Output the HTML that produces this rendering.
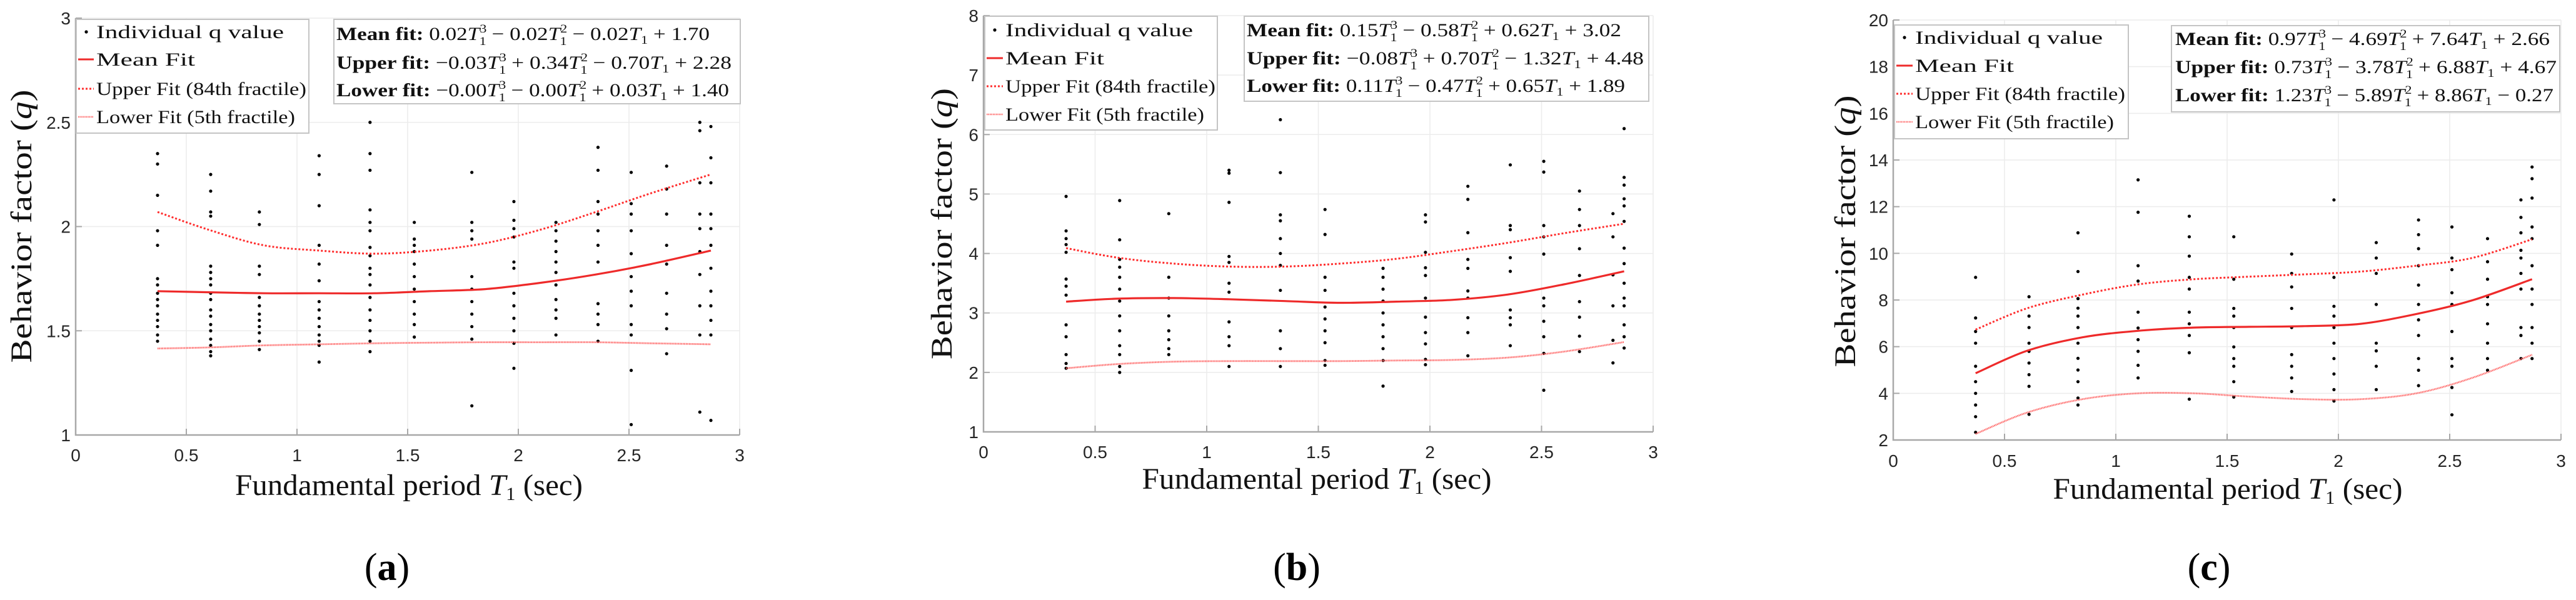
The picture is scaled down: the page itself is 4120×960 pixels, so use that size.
<!DOCTYPE html>
<html><head><meta charset="utf-8"><title>Behavior factor vs fundamental period</title>
<style>
html,body{margin:0;padding:0;background:#fff;}
svg{display:block;}
.tk{font-family:"Liberation Sans",sans-serif;font-size:28px;fill:#262626;}
.lg{font-family:"Liberation Serif",serif;font-size:30px;fill:#111;}
.ft{font-family:"Liberation Serif",serif;font-size:30px;fill:#111;}
.ti{font-family:"Liberation Serif",serif;font-size:48px;fill:#111;}
.pl{font-family:"Liberation Serif",serif;font-size:62px;fill:#000;}
</style></head>
<body>
<svg id="fig" width="4120" height="960" viewBox="0 0 4120 960" xmlns="http://www.w3.org/2000/svg">
<rect width="4120" height="960" fill="#fff"/>
<g id="layer-a"></g>
<g id="layer-b"></g>
<g id="layer-c"></g>

<!-- Panel a static text -->
<g>
<rect x="122" y="31" width="372" height="182" fill="#fff" stroke="#c4c4c4" stroke-width="2"/>
<circle cx="138" cy="51" r="2.6" fill="#000"/>
<text class="lg" x="154" y="61" textLength="300" lengthAdjust="spacingAndGlyphs">Individual q value</text>
<line x1="125" y1="95" x2="150" y2="95" stroke="#ee2a2a" stroke-width="3"/>
<text class="lg" x="154" y="105" textLength="158" lengthAdjust="spacingAndGlyphs">Mean Fit</text>
<line x1="125" y1="142" x2="150" y2="142" stroke="#ff2e2e" stroke-width="3" stroke-dasharray="3 3"/>
<text class="lg" x="154" y="152" textLength="336" lengthAdjust="spacingAndGlyphs">Upper Fit (84th fractile)</text>
<line x1="125" y1="187" x2="150" y2="187" stroke="#ff6f6f" stroke-width="2.6" stroke-dasharray="1.5 1"/>
<text class="lg" x="154" y="197" textLength="318" lengthAdjust="spacingAndGlyphs">Lower Fit (5th fractile)</text>
</g>
<g>
<rect x="534" y="31" width="650" height="135" fill="#fff" stroke="#c4c4c4" stroke-width="2"/>
<text class="ft" x="538" y="64" textLength="597" lengthAdjust="spacingAndGlyphs"><tspan font-weight="bold">Mean fit:</tspan> 0.02<tspan font-style="italic">T</tspan><tspan font-size="19" dy="-12">3</tspan><tspan font-size="19" dx="-10" dy="20">1</tspan><tspan dy="-8"> − 0.02</tspan><tspan font-style="italic">T</tspan><tspan font-size="19" dy="-12">2</tspan><tspan font-size="19" dx="-10" dy="20">1</tspan><tspan dy="-8"> − 0.02</tspan><tspan font-style="italic">T</tspan><tspan font-size="19" dy="6">1</tspan><tspan dy="-6"> + 1.70</tspan></text>
<text class="ft" x="538" y="110" textLength="632" lengthAdjust="spacingAndGlyphs"><tspan font-weight="bold">Upper fit:</tspan> −0.03<tspan font-style="italic">T</tspan><tspan font-size="19" dy="-12">3</tspan><tspan font-size="19" dx="-10" dy="20">1</tspan><tspan dy="-8"> + 0.34</tspan><tspan font-style="italic">T</tspan><tspan font-size="19" dy="-12">2</tspan><tspan font-size="19" dx="-10" dy="20">1</tspan><tspan dy="-8"> − 0.70</tspan><tspan font-style="italic">T</tspan><tspan font-size="19" dy="6">1</tspan><tspan dy="-6"> + 2.28</tspan></text>
<text class="ft" x="538" y="154" textLength="628" lengthAdjust="spacingAndGlyphs"><tspan font-weight="bold">Lower fit:</tspan> −0.00<tspan font-style="italic">T</tspan><tspan font-size="19" dy="-12">3</tspan><tspan font-size="19" dx="-10" dy="20">1</tspan><tspan dy="-8"> − 0.00</tspan><tspan font-style="italic">T</tspan><tspan font-size="19" dy="-12">2</tspan><tspan font-size="19" dx="-10" dy="20">1</tspan><tspan dy="-8"> + 0.03</tspan><tspan font-style="italic">T</tspan><tspan font-size="19" dy="6">1</tspan><tspan dy="-6"> + 1.40</tspan></text>
</g>
<text class="ti" x="50" y="362" text-anchor="middle" transform="rotate(-90 50 362)" textLength="437" lengthAdjust="spacingAndGlyphs">Behavior factor (<tspan font-style="italic">q</tspan>)</text>
<text class="ti" x="654" y="792" text-anchor="middle" textLength="556" lengthAdjust="spacingAndGlyphs">Fundamental period <tspan font-style="italic">T</tspan><tspan font-size="30" dy="8">1</tspan><tspan dy="-8"> (sec)</tspan></text>
<text class="pl" x="619" y="928" text-anchor="middle">(<tspan font-weight="bold">a</tspan>)</text>

<!-- Panel b static text -->
<g>
<rect x="1575" y="26" width="372" height="182" fill="#fff" stroke="#c4c4c4" stroke-width="2"/>
<circle cx="1591" cy="48" r="2.6" fill="#000"/>
<text class="lg" x="1608" y="58" textLength="300" lengthAdjust="spacingAndGlyphs">Individual q value</text>
<line x1="1578" y1="93" x2="1604" y2="93" stroke="#ee2a2a" stroke-width="3"/>
<text class="lg" x="1608" y="103" textLength="158" lengthAdjust="spacingAndGlyphs">Mean Fit</text>
<line x1="1578" y1="138" x2="1604" y2="138" stroke="#ff2e2e" stroke-width="3" stroke-dasharray="3 3"/>
<text class="lg" x="1608" y="148" textLength="336" lengthAdjust="spacingAndGlyphs">Upper Fit (84th fractile)</text>
<line x1="1578" y1="183" x2="1604" y2="183" stroke="#ff6f6f" stroke-width="2.6" stroke-dasharray="1.5 1"/>
<text class="lg" x="1608" y="193" textLength="318" lengthAdjust="spacingAndGlyphs">Lower Fit (5th fractile)</text>
</g>
<g>
<rect x="1990" y="26" width="647" height="136" fill="#fff" stroke="#c4c4c4" stroke-width="2"/>
<text class="ft" x="1994" y="58" textLength="599" lengthAdjust="spacingAndGlyphs"><tspan font-weight="bold">Mean fit:</tspan> 0.15<tspan font-style="italic">T</tspan><tspan font-size="19" dy="-12">3</tspan><tspan font-size="19" dx="-10" dy="20">1</tspan><tspan dy="-8"> − 0.58</tspan><tspan font-style="italic">T</tspan><tspan font-size="19" dy="-12">2</tspan><tspan font-size="19" dx="-10" dy="20">1</tspan><tspan dy="-8"> + 0.62</tspan><tspan font-style="italic">T</tspan><tspan font-size="19" dy="6">1</tspan><tspan dy="-6"> + 3.02</tspan></text>
<text class="ft" x="1994" y="103" textLength="635" lengthAdjust="spacingAndGlyphs"><tspan font-weight="bold">Upper fit:</tspan> −0.08<tspan font-style="italic">T</tspan><tspan font-size="19" dy="-12">3</tspan><tspan font-size="19" dx="-10" dy="20">1</tspan><tspan dy="-8"> + 0.70</tspan><tspan font-style="italic">T</tspan><tspan font-size="19" dy="-12">2</tspan><tspan font-size="19" dx="-10" dy="20">1</tspan><tspan dy="-8"> − 1.32</tspan><tspan font-style="italic">T</tspan><tspan font-size="19" dy="6">1</tspan><tspan dy="-6"> + 4.48</tspan></text>
<text class="ft" x="1994" y="147" textLength="605" lengthAdjust="spacingAndGlyphs"><tspan font-weight="bold">Lower fit:</tspan> 0.11<tspan font-style="italic">T</tspan><tspan font-size="19" dy="-12">3</tspan><tspan font-size="19" dx="-10" dy="20">1</tspan><tspan dy="-8"> − 0.47</tspan><tspan font-style="italic">T</tspan><tspan font-size="19" dy="-12">2</tspan><tspan font-size="19" dx="-10" dy="20">1</tspan><tspan dy="-8"> + 0.65</tspan><tspan font-style="italic">T</tspan><tspan font-size="19" dy="6">1</tspan><tspan dy="-6"> + 1.89</tspan></text>
</g>
<text class="ti" x="1522" y="358" text-anchor="middle" transform="rotate(-90 1522 358)" textLength="434" lengthAdjust="spacingAndGlyphs">Behavior factor (<tspan font-style="italic">q</tspan>)</text>
<text class="ti" x="2106" y="782" text-anchor="middle" textLength="559" lengthAdjust="spacingAndGlyphs">Fundamental period <tspan font-style="italic">T</tspan><tspan font-size="30" dy="8">1</tspan><tspan dy="-8"> (sec)</tspan></text>
<text class="pl" x="2074" y="928" text-anchor="middle">(<tspan font-weight="bold">b</tspan>)</text>

<!-- Panel c static text -->
<g>
<rect x="3030" y="40" width="374" height="182" fill="#fff" stroke="#c4c4c4" stroke-width="2"/>
<circle cx="3046" cy="60" r="2.6" fill="#000"/>
<text class="lg" x="3063" y="70" textLength="300" lengthAdjust="spacingAndGlyphs">Individual q value</text>
<line x1="3033" y1="105" x2="3059" y2="105" stroke="#ee2a2a" stroke-width="3"/>
<text class="lg" x="3063" y="115" textLength="158" lengthAdjust="spacingAndGlyphs">Mean Fit</text>
<line x1="3033" y1="150" x2="3059" y2="150" stroke="#ff2e2e" stroke-width="3" stroke-dasharray="3 3"/>
<text class="lg" x="3063" y="160" textLength="336" lengthAdjust="spacingAndGlyphs">Upper Fit (84th fractile)</text>
<line x1="3033" y1="195" x2="3059" y2="195" stroke="#ff6f6f" stroke-width="2.6" stroke-dasharray="1.5 1"/>
<text class="lg" x="3063" y="205" textLength="318" lengthAdjust="spacingAndGlyphs">Lower Fit (5th fractile)</text>
</g>
<g>
<rect x="3473" y="41" width="621" height="138" fill="#fff" stroke="#c4c4c4" stroke-width="2"/>
<text class="ft" x="3479" y="72" textLength="599" lengthAdjust="spacingAndGlyphs"><tspan font-weight="bold">Mean fit:</tspan> 0.97<tspan font-style="italic">T</tspan><tspan font-size="19" dy="-12">3</tspan><tspan font-size="19" dx="-10" dy="20">1</tspan><tspan dy="-8"> − 4.69</tspan><tspan font-style="italic">T</tspan><tspan font-size="19" dy="-12">2</tspan><tspan font-size="19" dx="-10" dy="20">1</tspan><tspan dy="-8"> + 7.64</tspan><tspan font-style="italic">T</tspan><tspan font-size="19" dy="6">1</tspan><tspan dy="-6"> + 2.66</tspan></text>
<text class="ft" x="3479" y="117" textLength="610" lengthAdjust="spacingAndGlyphs"><tspan font-weight="bold">Upper fit:</tspan> 0.73<tspan font-style="italic">T</tspan><tspan font-size="19" dy="-12">3</tspan><tspan font-size="19" dx="-10" dy="20">1</tspan><tspan dy="-8"> − 3.78</tspan><tspan font-style="italic">T</tspan><tspan font-size="19" dy="-12">2</tspan><tspan font-size="19" dx="-10" dy="20">1</tspan><tspan dy="-8"> + 6.88</tspan><tspan font-style="italic">T</tspan><tspan font-size="19" dy="6">1</tspan><tspan dy="-6"> + 4.67</tspan></text>
<text class="ft" x="3479" y="162" textLength="605" lengthAdjust="spacingAndGlyphs"><tspan font-weight="bold">Lower fit:</tspan> 1.23<tspan font-style="italic">T</tspan><tspan font-size="19" dy="-12">3</tspan><tspan font-size="19" dx="-10" dy="20">1</tspan><tspan dy="-8"> − 5.89</tspan><tspan font-style="italic">T</tspan><tspan font-size="19" dy="-12">2</tspan><tspan font-size="19" dx="-10" dy="20">1</tspan><tspan dy="-8"> + 8.86</tspan><tspan font-style="italic">T</tspan><tspan font-size="19" dy="6">1</tspan><tspan dy="-6"> − 0.27</tspan></text>
</g>
<text class="ti" x="2967" y="370" text-anchor="middle" transform="rotate(-90 2967 370)" textLength="435" lengthAdjust="spacingAndGlyphs">Behavior factor (<tspan font-style="italic">q</tspan>)</text>
<text class="ti" x="3563" y="798" text-anchor="middle" textLength="559" lengthAdjust="spacingAndGlyphs">Fundamental period <tspan font-style="italic">T</tspan><tspan font-size="30" dy="8">1</tspan><tspan dy="-8"> (sec)</tspan></text>
<text class="pl" x="3533" y="928" text-anchor="middle">(<tspan font-weight="bold">c</tspan>)</text>
</svg>

<script>
// ---- data ----
const periods = [0.37, 0.61, 0.83, 1.10, 1.33, 1.53, 1.79, 1.98, 2.17, 2.36, 2.51, 2.67, 2.82, 2.87];
const xTicks = [0, 0.5, 1, 1.5, 2, 2.5, 3];
const xTickLabels = ['0', '0.5', '1', '1.5', '2', '2.5', '3'];

const qA = [
 [2.35,2.30,2.15,1.98,1.91,1.75,1.72,1.68,1.65,1.62,1.58,1.55,1.52,1.48,1.45],
 [2.25,2.17,2.07,2.05,1.81,1.78,1.75,1.72,1.68,1.65,1.60,1.57,1.53,1.50,1.46,1.43,1.40,1.38],
 [2.07,2.01,1.81,1.77,1.66,1.62,1.58,1.55,1.52,1.49,1.45,1.41],
 [2.34,2.25,2.10,1.91,1.82,1.74,1.64,1.60,1.56,1.52,1.48,1.45,1.43,1.35],
 [2.50,2.35,2.27,2.08,2.02,1.98,1.90,1.86,1.80,1.77,1.72,1.66,1.60,1.55,1.50,1.45,1.40],
 [2.02,1.94,1.91,1.88,1.82,1.76,1.70,1.64,1.58,1.53,1.47],
 [2.26,2.02,1.98,1.94,1.76,1.70,1.64,1.58,1.52,1.46,1.14],
 [2.12,2.03,1.99,1.95,1.83,1.80,1.68,1.62,1.56,1.50,1.44,1.32],
 [2.02,1.98,1.93,1.88,1.83,1.78,1.72,1.65,1.60,1.56,1.48],
 [2.38,2.27,2.12,2.06,1.98,1.91,1.83,1.63,1.58,1.53,1.45],
 [2.26,2.11,2.06,1.98,1.87,1.76,1.69,1.62,1.53,1.48,1.31,1.05],
 [2.29,2.18,2.06,1.91,1.82,1.68,1.58,1.51,1.39],
 [2.50,2.46,2.21,2.06,1.99,1.88,1.77,1.62,1.48,1.11],
 [2.48,2.33,2.21,2.06,1.99,1.91,1.80,1.69,1.62,1.55,1.48,1.07]
];
const qB = [
 [4.96,4.38,4.25,4.15,4.02,3.57,3.45,3.30,2.80,2.60,2.30,2.15,2.07],
 [4.89,4.23,3.90,3.77,3.60,3.40,3.20,2.95,2.70,2.45,2.30,2.10,2.00],
 [4.67,3.60,3.25,2.95,2.70,2.55,2.40,2.30],
 [5.40,5.35,4.86,3.95,3.85,3.50,3.35,2.85,2.60,2.45,2.10],
 [6.25,5.36,4.65,4.55,4.25,4.00,3.80,3.38,2.70,2.40,2.10],
 [4.74,4.32,3.60,3.38,3.10,2.90,2.70,2.50,2.20,2.12],
 [3.75,3.60,3.40,3.20,3.00,2.80,2.60,2.40,2.20,1.77],
 [4.65,4.53,4.02,3.76,3.63,3.25,2.93,2.67,2.48,2.22,2.13],
 [5.13,4.91,4.35,3.90,3.75,3.37,3.25,2.92,2.67,2.28],
 [5.49,4.47,4.40,3.93,3.70,3.05,2.92,2.80,2.45],
 [5.55,5.37,4.47,4.28,3.99,3.25,3.12,2.86,2.60,2.32,1.70],
 [5.05,4.74,4.47,4.08,3.63,3.19,2.93,2.61,2.35],
 [4.67,4.28,3.64,3.12,2.54,2.16],
 [6.10,5.28,5.15,4.92,4.80,4.54,4.09,3.83,3.50,3.25,3.12,2.80,2.60,2.41]
];
const qC = [
 [8.97,7.23,6.65,6.15,5.16,4.50,4.00,3.50,3.00,2.33],
 [8.14,7.31,6.82,6.15,5.80,5.30,4.80,4.30,3.10],
 [10.88,9.22,8.06,7.65,7.31,6.82,6.15,5.50,5.00,4.50,3.80,3.50],
 [13.15,11.76,9.47,8.81,7.48,6.80,6.30,5.80,5.20,4.66],
 [11.59,10.71,9.88,8.97,8.47,7.48,6.98,6.48,5.74,3.75],
 [10.71,8.89,7.64,7.31,6.82,5.99,5.49,5.16,4.50,3.84],
 [9.97,9.14,8.56,7.64,6.82,5.66,5.16,4.66,4.08],
 [12.29,8.97,7.73,7.31,6.82,6.15,5.49,4.83,4.16,3.67],
 [10.46,9.80,9.14,7.81,6.15,5.82,5.16,4.16],
 [11.43,10.80,10.20,9.47,8.64,7.81,7.15,6.48,5.49,4.99,4.33],
 [11.13,9.80,9.30,8.31,7.81,6.65,5.49,5.16,4.25,3.08],
 [10.63,9.64,8.89,8.14,7.81,6.98,6.15,5.49,4.99],
 [12.29,11.54,10.88,10.13,9.80,9.14,8.47,6.82,6.48,5.49],
 [13.70,13.20,12.37,11.13,10.63,9.47,8.47,7.81,6.82,6.15,5.49]
];

const fitT = [0.37, 0.6, 0.85, 1.1, 1.35, 1.6, 1.85, 2.1, 2.35, 2.6, 2.87];
const meanA  = [1.69, 1.685, 1.68, 1.68, 1.68, 1.69, 1.70, 1.73, 1.77, 1.82, 1.885];
const upperA = [2.07, 1.985, 1.91, 1.885, 1.87, 1.885, 1.92, 1.985, 2.07, 2.16, 2.25];
const lowerA = [1.415, 1.42, 1.43, 1.435, 1.44, 1.443, 1.445, 1.445, 1.445, 1.44, 1.435];
const meanB  = [3.19, 3.24, 3.25, 3.23, 3.20, 3.17, 3.19, 3.22, 3.31, 3.48, 3.70];
const upperB = [4.09, 3.93, 3.83, 3.78, 3.78, 3.83, 3.91, 4.04, 4.18, 4.34, 4.50];
const lowerB = [2.07, 2.14, 2.18, 2.19, 2.19, 2.19, 2.20, 2.21, 2.25, 2.35, 2.51];
const meanC  = [4.86, 5.82, 6.40, 6.68, 6.82, 6.85, 6.88, 6.98, 7.40, 7.98, 8.89];
const upperC = [6.73, 7.64, 8.23, 8.67, 8.89, 9.00, 9.10, 9.22, 9.47, 9.80, 10.60];
const lowerC = [2.26, 3.17, 3.75, 4.00, 4.00, 3.86, 3.75, 3.75, 4.00, 4.66, 5.65];

const yTicksA = [1, 1.5, 2, 2.5, 3];
const yTickLabelsA = ['1', '1.5', '2', '2.5', '3'];
const yTicksB = [1, 2, 3, 4, 5, 6, 7, 8];
const yTickLabelsB = ['1', '2', '3', '4', '5', '6', '7', '8'];
const yTicksC = [2, 4, 6, 8, 10, 12, 14, 16, 18, 20];
const yTickLabelsC = ['2', '4', '6', '8', '10', '12', '14', '16', '18', '20'];

// ---- rendering ----
const NS = 'http://www.w3.org/2000/svg';
function mk(tag, attrs, parent) {
  const e = document.createElementNS(NS, tag);
  for (const k in attrs) e.setAttribute(k, attrs[k]);
  parent.appendChild(e);
  return e;
}
function smoothPath(pts) {
  let d = 'M' + pts[0][0].toFixed(1) + ',' + pts[0][1].toFixed(1);
  for (let i = 0; i < pts.length - 1; i++) {
    const p0 = pts[Math.max(0, i - 1)], p1 = pts[i], p2 = pts[i + 1], p3 = pts[Math.min(pts.length - 1, i + 2)];
    const c1x = p1[0] + (p2[0] - p0[0]) / 6, c1y = p1[1] + (p2[1] - p0[1]) / 6;
    const c2x = p2[0] - (p3[0] - p1[0]) / 6, c2y = p2[1] - (p3[1] - p1[1]) / 6;
    d += ' C' + c1x.toFixed(1) + ',' + c1y.toFixed(1) + ' ' + c2x.toFixed(1) + ',' + c2y.toFixed(1) + ' ' + p2[0].toFixed(1) + ',' + p2[1].toFixed(1);
  }
  return d;
}

function drawPanel(cfg) {
  const g = document.getElementById(cfg.layer);
  const X = t => cfg.x0 + (t - 0) / 3 * (cfg.x1 - cfg.x0);
  const Y = q => cfg.yb - (q - cfg.ymin) / (cfg.ymax - cfg.ymin) * (cfg.yb - cfg.yt);
  const grid = mk('g', {}, g);
  
  
  xTicks.forEach((t, i) => {
    if (i > 0) {
      const l = mk('line', {x1: X(t), x2: X(t), y1: cfg.yt, y2: cfg.yb, stroke: '#ececec', 'stroke-width': 1.5}, grid);
      
      
    }
    const tk = mk('line', {x1: X(t), x2: X(t), y1: cfg.yb, y2: cfg.yb - 10, stroke: '#a8a8a8', 'stroke-width': 2}, grid);
    
    
    const tx = mk('text', {x: X(t), y: cfg.yb + cfg.xlab, 'text-anchor': 'middle', class: 'tk'}, g);
    
    
    tx.textContent = xTickLabels[i];
  });
  cfg.yTicks.forEach((q, i) => {
    if (i > 0) {
      const l = mk('line', {x1: cfg.x0, x2: cfg.x1, y1: Y(q), y2: Y(q), stroke: '#ececec', 'stroke-width': 1.5}, grid);
      
      
    }
    const tk = mk('line', {x1: cfg.x0, x2: cfg.x0 + 10, y1: Y(q), y2: Y(q), stroke: '#a8a8a8', 'stroke-width': 2}, grid);
    
    
    const tx = mk('text', {x: cfg.x0 - 8, y: Y(q) + 10, 'text-anchor': 'end', class: 'tk'}, g);
    
    
    tx.textContent = cfg.yLabels[i];
  });
  const ax = mk('path', {d: 'M' + cfg.x0 + ',' + cfg.yt + ' V' + cfg.yb + ' H' + cfg.x1, fill: 'none', stroke: '#a8a8a8', 'stroke-width': 2.5}, g);
  
  

  const pts = mk('g', {}, g);
  
  
  periods.forEach((t, i) => {
    cfg.q[i].forEach(v => {
      const c = mk('circle', {cx: X(t), cy: Y(v), r: 2.6, fill: '#000'}, pts);
      
      
    });
  });
  const lines = [
    [cfg.mean, 'mean-fit-line', {stroke: '#ee2a2a', 'stroke-width': 3.2}],
    [cfg.upper, 'upper-fit-line', {stroke: '#ff2e2e', 'stroke-width': 3, 'stroke-dasharray': '3 3'}],
    [cfg.lower, 'lower-fit-line', {stroke: '#ff6060', 'stroke-width': 2.8, 'stroke-dasharray': '1.5 1'}]
  ];
  lines.forEach(([vals, name, st]) => {
    const p = fitT.map((t, i) => [X(t), Y(vals[i])]);
    const a = Object.assign({d: smoothPath(p), fill: 'none'}, st);
    const e = mk('path', a, g);
    
    
  });
}

drawPanel({id: 'panel-a', layer: 'layer-a', x0: 121, x1: 1183, yt: 29, yb: 696, ymin: 1, ymax: 3, xlab: 42,
  yTicks: yTicksA, yLabels: yTickLabelsA, q: qA, mean: meanA, upper: upperA, lower: lowerA});
drawPanel({id: 'panel-b', layer: 'layer-b', x0: 1573, x1: 2644, yt: 25, yb: 691, ymin: 1, ymax: 8, xlab: 42,
  yTicks: yTicksB, yLabels: yTickLabelsB, q: qB, mean: meanB, upper: upperB, lower: lowerB});
drawPanel({id: 'panel-c', layer: 'layer-c', x0: 3028, x1: 4096, yt: 32, yb: 704, ymin: 2, ymax: 20, xlab: 43,
  yTicks: yTicksC, yLabels: yTickLabelsC, q: qC, mean: meanC, upper: upperC, lower: lowerC});
</script>
</body></html>
